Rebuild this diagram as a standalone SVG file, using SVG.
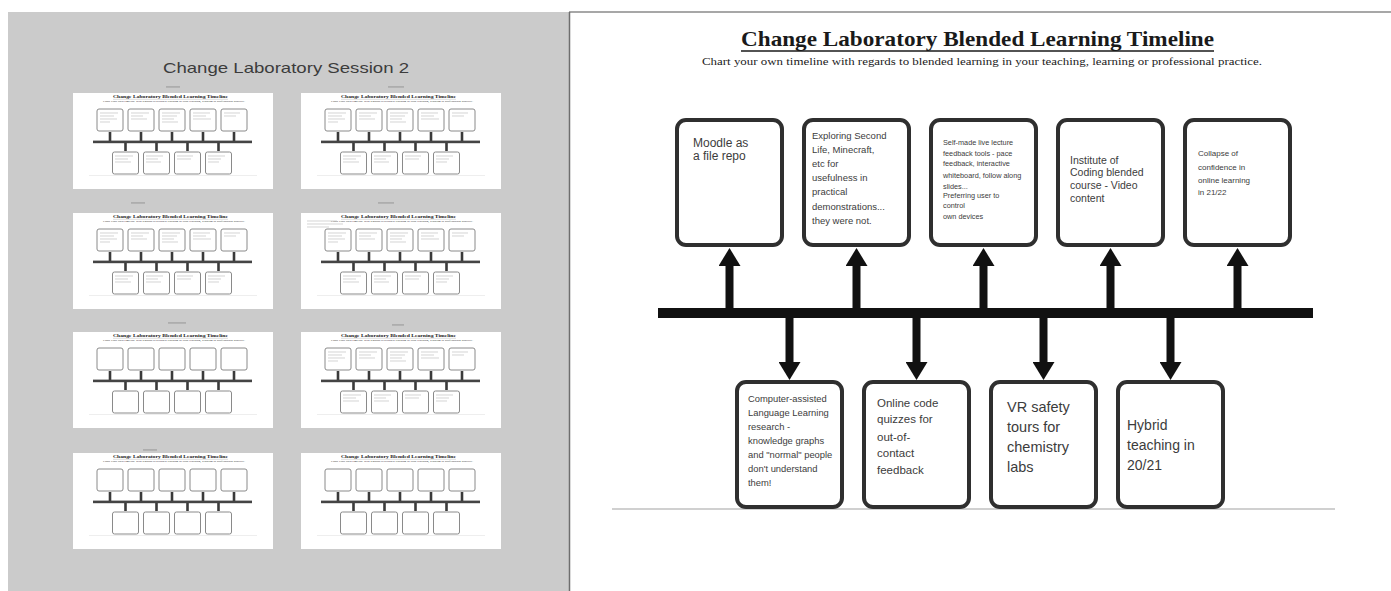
<svg xmlns="http://www.w3.org/2000/svg" xmlns:xlink="http://www.w3.org/1999/xlink" width="1391" height="591" viewBox="0 0 1391 591">
  <style>
    .card { fill: #ffffff; stroke: #2f2f2f; stroke-width: 4; }
    .hand { font-family: "Liberation Sans", "DejaVu Sans", sans-serif; fill: #3c3c3c; }
    .serif { font-family: "Liberation Serif", "DejaVu Serif", serif; fill: #1a1a1a; }
    .shaft { stroke: #111111; stroke-width: 8; fill: none; }
    .mini-box { fill: #ffffff; stroke: #8a8a8a; stroke-width: 1; }
    .mini-arrow { stroke: #3a3a3a; stroke-width: 2.6; }
    .scribble { stroke: #c2c2c2; stroke-width: 0.7; }
    .smudge { fill: #9a9a9a; opacity: 0.6; }
  </style>
  <defs>
    <marker id="head" markerUnits="userSpaceOnUse" markerWidth="18" markerHeight="22" viewBox="0 0 18 22" refX="0" refY="11" orient="auto">
      <path d="M0,0 L18,11 L0,22 Z" fill="#111111"/>
    </marker>
    <!-- miniature timeline sheet -->
    <symbol id="mini" viewBox="0 0 200 96" width="200" height="96">
      <rect width="200" height="96" fill="#ffffff"/>
      <text x="40" y="5.4" class="serif" font-size="4.2" font-weight="bold" textLength="115" lengthAdjust="spacingAndGlyphs" fill="#555">Change Laboratory Blended Learning Timeline</text>
      <line x1="40" y1="6.3" x2="155" y2="6.3" stroke="#aaa" stroke-width="0.4"/>
      <text x="30" y="9" class="serif" font-size="2" textLength="142" lengthAdjust="spacingAndGlyphs" fill="#aaa">Chart your own timeline with regards to blended learning in your teaching, learning or professional  practice.</text>
      <rect class="mini-box" x="24" y="16" width="26" height="22" rx="2"/>
      <rect class="mini-box" x="55" y="16" width="26" height="22" rx="2"/>
      <rect class="mini-box" x="86" y="16" width="26" height="22" rx="2"/>
      <rect class="mini-box" x="117" y="16" width="26" height="22" rx="2"/>
      <rect class="mini-box" x="148" y="16" width="26" height="22" rx="2"/>
      <g class="mini-arrow">
        <line x1="37" y1="48" x2="37" y2="39"/>
        <line x1="68" y1="48" x2="68" y2="39"/>
        <line x1="99" y1="48" x2="99" y2="39"/>
        <line x1="130" y1="48" x2="130" y2="39"/>
        <line x1="161" y1="48" x2="161" y2="39"/>
        <line x1="52.5" y1="50" x2="52.5" y2="58"/>
        <line x1="83.5" y1="50" x2="83.5" y2="58"/>
        <line x1="114.5" y1="50" x2="114.5" y2="58"/>
        <line x1="145.5" y1="50" x2="145.5" y2="58"/>
      </g>
      <rect x="20" y="47.6" width="159" height="2.6" fill="#444"/>
      <rect class="mini-box" x="39.5" y="59" width="26" height="22" rx="2"/>
      <rect class="mini-box" x="70.5" y="59" width="26" height="22" rx="2"/>
      <rect class="mini-box" x="101.5" y="59" width="26" height="22" rx="2"/>
      <rect class="mini-box" x="132.5" y="59" width="26" height="22" rx="2"/>
      <line x1="16" y1="82.5" x2="184" y2="82.5" stroke="#e2e2e2" stroke-width="0.6"/>
    </symbol>
    <!-- faint handwritten notes inside the miniature boxes -->
    <symbol id="notes" viewBox="0 0 200 96" width="200" height="96">
      <g class="scribble">
        <path d="M27,20h18M27,23h14M27,26h17M27,29h10"/>
        <path d="M58,20h18M58,23h12M58,26h16"/>
        <path d="M89,20h18M89,23h15M89,26h12M89,29h16"/>
        <path d="M120,20h17M120,23h13M120,26h18"/>
        <path d="M151,20h16M151,23h12"/>
        <path d="M42,63h18M42,66h13M42,69h16"/>
        <path d="M73,63h17M73,66h12M73,69h15"/>
        <path d="M104,63h16M104,66h14"/>
        <path d="M135,63h17M135,66h13M135,69h11"/>
      </g>
    </symbol>
  </defs>

  <rect width="1391" height="591" fill="#ffffff"/>

  <!-- left panel: session overview -->
  <g id="session-panel">
    <rect x="8" y="12" width="561" height="579" fill="#cbcbcb"/>
    <text x="163" y="73" class="hand" font-size="15" fill="#474747" textLength="246" lengthAdjust="spacingAndGlyphs">Change Laboratory Session 2</text>

    <rect class="smudge" x="166" y="86" width="14" height="1.8"/>
    <rect class="smudge" x="388" y="86" width="16" height="1.8"/>
    <rect class="smudge" x="131" y="202" width="14" height="1.8"/>
    <rect class="smudge" x="378" y="202" width="16" height="1.8"/>
    <rect class="smudge" x="168" y="322" width="18" height="1.8"/>
    <rect class="smudge" x="392" y="324" width="12" height="1.8"/>
    <rect class="smudge" x="143" y="449" width="14" height="1.8"/>

    <g id="sheet-1"><use xlink:href="#mini" x="73" y="93"/><use xlink:href="#notes" x="73" y="93"/></g>
    <g id="sheet-2"><use xlink:href="#mini" x="301" y="93"/><use xlink:href="#notes" x="301" y="93"/></g>
    <g id="sheet-3"><use xlink:href="#mini" x="73" y="213"/><use xlink:href="#notes" x="73" y="213"/></g>
    <g id="sheet-4"><use xlink:href="#mini" x="301" y="213"/><use xlink:href="#notes" x="301" y="213"/>
      <path class="scribble" d="M307,221h30M307,224h36M307,227h22"/></g>
    <g id="sheet-5"><use xlink:href="#mini" x="73" y="332"/></g>
    <g id="sheet-6"><use xlink:href="#mini" x="301" y="332"/><use xlink:href="#notes" x="301" y="332"/></g>
    <g id="sheet-7"><use xlink:href="#mini" x="73" y="453"/></g>
    <g id="sheet-8"><use xlink:href="#mini" x="301" y="453"/></g>
  </g>

  <!-- right panel: blended learning timeline -->
  <g id="timeline-sheet">
    <line x1="569" y1="12" x2="1391" y2="12" stroke="#8a8a8a" stroke-width="1.5"/>
    <line x1="569.5" y1="12" x2="569.5" y2="591" stroke="#6e6e6e" stroke-width="1.5"/>
    <text x="741" y="46" class="serif" font-size="21" font-weight="bold" textLength="473" lengthAdjust="spacingAndGlyphs">Change Laboratory Blended Learning Timeline</text>
    <line x1="741" y1="51" x2="1214" y2="51" stroke="#1a1a1a" stroke-width="1.5"/>
    <text x="702" y="65" class="serif" font-size="10.5" textLength="560" lengthAdjust="spacingAndGlyphs">Chart your own timeline with regards to blended learning in your teaching, learning or professional  practice.</text>
    <line x1="612" y1="509" x2="1335" y2="509" stroke="#d0d0d0" stroke-width="2"/>
  </g>

  <!-- timeline bar and arrows -->
  <g id="connectors">
    <rect x="658" y="308" width="655" height="10" fill="#111111"/>
    <line class="shaft" x1="729.5" y1="308" x2="729.5" y2="266" marker-end="url(#head)"/>
    <line class="shaft" x1="856.5" y1="308" x2="856.5" y2="266" marker-end="url(#head)"/>
    <line class="shaft" x1="983.5" y1="308" x2="983.5" y2="266" marker-end="url(#head)"/>
    <line class="shaft" x1="1110.5" y1="308" x2="1110.5" y2="266" marker-end="url(#head)"/>
    <line class="shaft" x1="1237.5" y1="308" x2="1237.5" y2="266" marker-end="url(#head)"/>
    <line class="shaft" x1="789.5" y1="318" x2="789.5" y2="362" marker-end="url(#head)"/>
    <line class="shaft" x1="916.5" y1="318" x2="916.5" y2="362" marker-end="url(#head)"/>
    <line class="shaft" x1="1043.5" y1="318" x2="1043.5" y2="362" marker-end="url(#head)"/>
    <line class="shaft" x1="1170.5" y1="318" x2="1170.5" y2="362" marker-end="url(#head)"/>
  </g>

  <!-- upper events -->
  <g id="event-moodle">
    <rect class="card" x="677" y="120" width="105" height="125" rx="9"/>
    <text class="hand" font-size="12"><tspan x="693" y="147">Moodle as</tspan><tspan x="693" y="160">a file repo</tspan></text>
  </g>
  <g id="event-second-life">
    <rect class="card" x="804" y="120" width="105" height="125" rx="9"/>
    <text class="hand" font-size="9.5">
      <tspan x="812" y="138.5">Exploring Second</tspan>
      <tspan x="812" y="152.7">Life, Minecraft,</tspan>
      <tspan x="812" y="166.9">etc for</tspan>
      <tspan x="812" y="181.1">usefulness in</tspan>
      <tspan x="812" y="195.3">practical</tspan>
      <tspan x="812" y="209.5">demonstrations...</tspan>
      <tspan x="812" y="223.7">they were not.</tspan>
    </text>
  </g>
  <g id="event-lecture-tools">
    <rect class="card" x="931" y="120" width="105" height="125" rx="9"/>
    <text class="hand" font-size="7.3">
      <tspan x="943" y="144.5">Self-made live lecture</tspan>
      <tspan x="943" y="155.5">feedback tools - pace</tspan>
      <tspan x="943" y="166">feedback, interactive</tspan>
      <tspan x="943" y="177.5">whiteboard, follow along</tspan>
      <tspan x="943" y="188.5">slides...</tspan>
      <tspan x="943" y="197.5">Preferring user to</tspan>
      <tspan x="943" y="207.5">control</tspan>
      <tspan x="943" y="218.5">own devices</tspan>
    </text>
  </g>
  <g id="event-institute-coding">
    <rect class="card" x="1058" y="120" width="105" height="125" rx="9"/>
    <text class="hand" font-size="10.5">
      <tspan x="1070" y="163.5">Institute of</tspan>
      <tspan x="1070" y="176">Coding blended</tspan>
      <tspan x="1070" y="188.5">course - Video</tspan>
      <tspan x="1070" y="201.5">content</tspan>
    </text>
  </g>
  <g id="event-confidence">
    <rect class="card" x="1185" y="120" width="105" height="125" rx="9"/>
    <text class="hand" font-size="8">
      <tspan x="1198" y="156">Collapse of</tspan>
      <tspan x="1198" y="170">confidence in</tspan>
      <tspan x="1198" y="183">online learning</tspan>
      <tspan x="1198" y="195">in 21/22</tspan>
    </text>
  </g>

  <!-- lower events -->
  <g id="event-call">
    <rect class="card" x="737" y="382" width="105" height="125" rx="9"/>
    <text class="hand" font-size="9.4">
      <tspan x="748" y="401.5">Computer-assisted</tspan>
      <tspan x="748" y="415.5">Language Learning</tspan>
      <tspan x="748" y="429.5">research -</tspan>
      <tspan x="748" y="443.5">knowledge graphs</tspan>
      <tspan x="748" y="457.5">and "normal" people</tspan>
      <tspan x="748" y="471.5">don't understand</tspan>
      <tspan x="748" y="485.5">them!</tspan>
    </text>
  </g>
  <g id="event-code-quizzes">
    <rect class="card" x="864" y="382" width="105" height="125" rx="9"/>
    <text class="hand" font-size="11.5">
      <tspan x="877" y="407">Online code</tspan>
      <tspan x="877" y="423">quizzes for</tspan>
      <tspan x="877" y="441">out-of-</tspan>
      <tspan x="877" y="457">contact</tspan>
      <tspan x="877" y="474">feedback</tspan>
    </text>
  </g>
  <g id="event-vr-tours">
    <rect class="card" x="991" y="382" width="105" height="125" rx="9"/>
    <text class="hand" font-size="14.5">
      <tspan x="1007" y="412">VR safety</tspan>
      <tspan x="1007" y="432">tours for</tspan>
      <tspan x="1007" y="452">chemistry</tspan>
      <tspan x="1007" y="472">labs</tspan>
    </text>
  </g>
  <g id="event-hybrid">
    <rect class="card" x="1118" y="382" width="105" height="125" rx="9"/>
    <text class="hand" font-size="14">
      <tspan x="1127" y="430">Hybrid</tspan>
      <tspan x="1127" y="450">teaching in</tspan>
      <tspan x="1127" y="470">20/21</tspan>
    </text>
  </g>
</svg>
